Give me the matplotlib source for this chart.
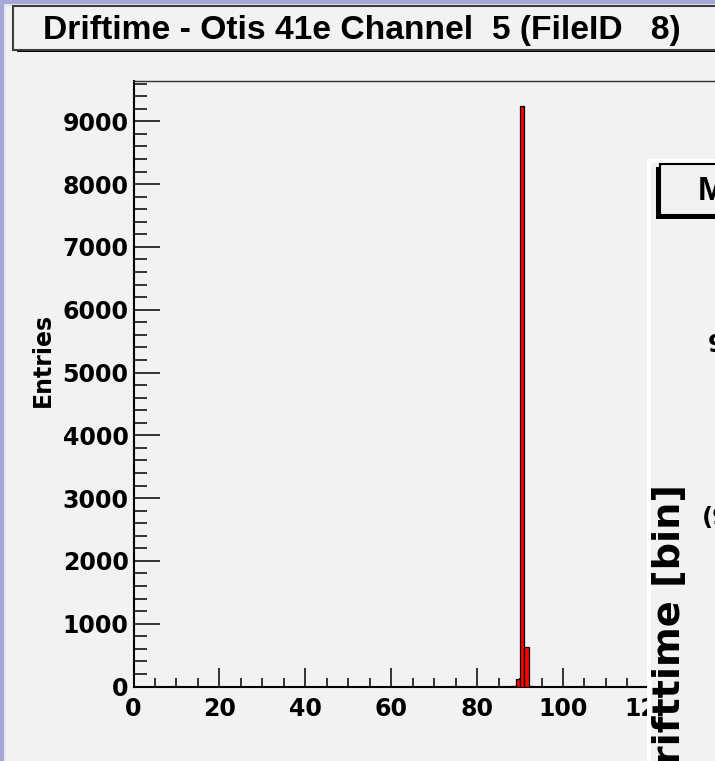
import matplotlib
matplotlib.use("Agg")
import matplotlib.pyplot as plt
from matplotlib.patches import Rectangle
from matplotlib.transforms import Affine2D
from matplotlib.ticker import MultipleLocator

W, H = 715, 761

# driftime histogram, 1-bin wide, only the filled bins
bin_low = [88, 89, 90, 91, 92]
entries = [8, 120, 9240, 630, 6]
x_range = (0, 150)
y_range = (0, 9650)
x_major, x_minor = 20, 5
y_major, y_minor = 1000, 200

title = "Driftime - Otis 41e Channel  5 (FileID   8)"
y_title = "Entries"
other_title = "M"
other_y_title = "Drifttime [bin]"
other_ticks = ["9", "(9"]

PURPLE = "#a6a6d8"
CANVAS = "#f2f2f2"
TICK_FONT = "DejaVu Sans"

plt.rcParams["font.family"] = ["Liberation Sans", "DejaVu Sans"]
plt.rcParams["font.weight"] = "bold"

fig = plt.figure(figsize=(W / 100, H / 100), dpi=100)
fig.patch.set_facecolor(PURPLE)

# pixel coordinates, origin top-left
pix = Affine2D().scale(1 / W, -1 / H).translate(0, 1) + fig.transFigure


def box(x0, y0, x1, y1, z, **kw):
    r = Rectangle((x0, y0), x1 - x0, y1 - y0, transform=pix, zorder=z, **kw)
    fig.add_artist(r)
    return r


# main canvas
box(5, 5, W + 20, H + 20, -3, facecolor=CANVAS, edgecolor="#e4e4ee", linewidth=1.5)

# title pave with shadow
box(17, 9, W + 40, 52, -2, facecolor="black", edgecolor="none")
box(13, 6, W + 40, 50, -1, facecolor=CANVAS, edgecolor="#3c3c3c", linewidth=1.5)
t = fig.text(43, 31, title, transform=pix, ha="left", va="center", fontsize=18,
             fontweight="bold", zorder=-1)
fig.canvas.draw()
w = t.get_window_extent().width
t.set_fontsize(18 * 637 / w)

# histogram frame
ax_l, ax_r, ax_t, ax_b = 133.5, 133.5 + 4.295 * (x_range[1] - x_range[0]), 80.5, 686.5
ax = fig.add_axes([ax_l / W, 1 - ax_b / H, (ax_r - ax_l) / W, (ax_b - ax_t) / H])
ax.set_facecolor("none")
ax.bar(bin_low, entries, width=1, align="edge", color="red", edgecolor="black",
       linewidth=0.9, zorder=3)
ax.set_xlim(*x_range)
ax.set_ylim(*y_range)
ax.xaxis.set_major_locator(MultipleLocator(x_major))
ax.xaxis.set_minor_locator(MultipleLocator(x_minor))
ax.yaxis.set_major_locator(MultipleLocator(y_major))
ax.yaxis.set_minor_locator(MultipleLocator(y_minor))
ax.tick_params(axis="x", which="major", direction="in", length=13.7, width=1.1,
               pad=7.5, labelsize=17)
ax.tick_params(axis="x", which="minor", direction="in", length=6.8, width=1.1)
ax.tick_params(axis="y", which="major", direction="in", length=18.7, width=1.1,
               pad=3.5, labelsize=17)
ax.tick_params(axis="y", which="minor", direction="in", length=9.4, width=1.1)
for lab in ax.get_xticklabels() + ax.get_yticklabels():
    lab.set_fontweight("bold")
    lab.set_family(TICK_FONT)
ax.spines["right"].set_visible(False)
ax.spines["left"].set_linewidth(1.5)
ax.spines["bottom"].set_linewidth(1.5)
ax.spines["top"].set_linewidth(1.0)
ax.spines["top"].set_color("#333333")
ax.set_ylabel(y_title, fontsize=17, fontweight="bold", family=TICK_FONT)
ax.yaxis.set_label_coords((55 - ax_l) / (ax_r - ax_l), (ax_b - 360) / (ax_b - ax_t))

# second canvas lying over the right side
box(647, 159, W + 30, H + 30, 5, facecolor="white", edgecolor="none")
box(651, 163, W + 30, H + 30, 5, facecolor=CANVAS, edgecolor="none")
box(656, 167, W + 40, 219, 6, facecolor="black", edgecolor="none")
box(660, 164, W + 40, 215, 6, facecolor=CANVAS, edgecolor="black", linewidth=1.5)
fig.text(698, 192, other_title, transform=pix, ha="left", va="center", fontsize=24,
         fontweight="bold", zorder=7)
fig.text(652, 484, other_y_title, transform=pix, ha="left", va="top", rotation=90,
         fontsize=27.5, fontweight="bold", family=TICK_FONT, zorder=7)
fig.text(708, 345, other_ticks[0], transform=pix, ha="left", va="center",
         fontsize=17.5, fontweight="bold", family=TICK_FONT, zorder=7)
fig.text(702, 518, other_ticks[1], transform=pix, ha="left", va="center",
         fontsize=17.5, fontweight="bold", family=TICK_FONT, zorder=7)

fig.savefig("out.png", dpi=100, facecolor=fig.get_facecolor())
